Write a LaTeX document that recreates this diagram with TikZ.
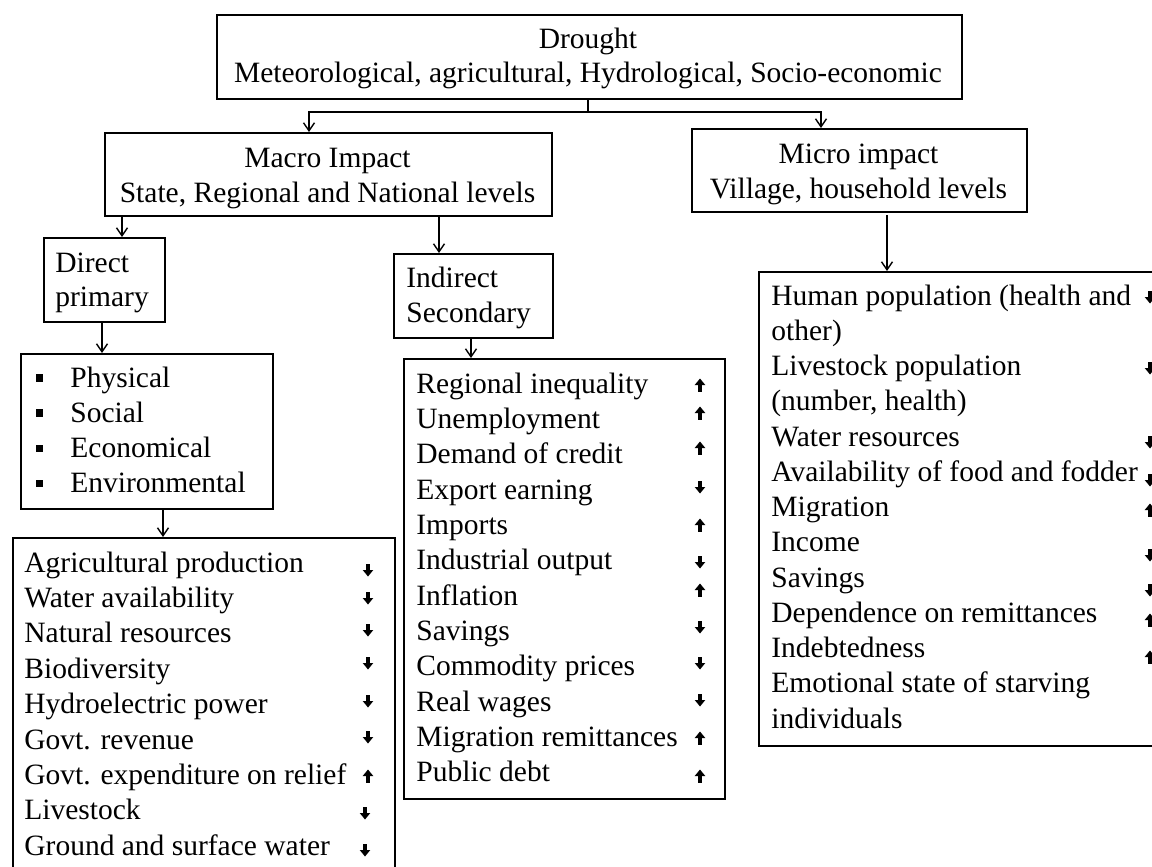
\documentclass[tikz,border=0pt]{standalone}
\usepackage{fontspec}
\setmainfont{Liberation Serif}
\usetikzlibrary{arrows.meta}
\newcommand\myfs{\fontsize{14.75}{17.6}\selectfont}
\begin{document}
\begin{tikzpicture}[x=0.5pt,y=-0.5pt,
  box/.style={draw, line width=0.8pt, inner sep=0pt, anchor=north west},
  txt/.style={inner sep=0pt, anchor=base west, font=\myfs},
  ctxt/.style={inner sep=0pt, anchor=base, font=\myfs},
  arr/.style={line width=0.7pt, -{Straight Barb[length=4pt,width=5.5pt,line width=0.7pt]}},
  plain/.style={line width=0.7pt},
  pics/darr/.style={code={\fill (-2,-6.5) rectangle (2,0.5); \fill (-5.3,0) -- (5.3,0) -- (0,6.5) -- cycle;}},
  pics/uarr/.style={code={\fill (-2,6.5) rectangle (2,-0.5); \fill (-5.3,0) -- (5.3,0) -- (0,-6.5) -- cycle;}},
]
\useasboundingbox (0,0) rectangle (1152,867);
\clip (0,0) rectangle (1152,867);

% boxes
\node[box, minimum width=372.5pt, minimum height=42pt] (drought) at (216,14) {};
\node[box, minimum width=223.5pt, minimum height=41.5pt] (macro) at (104,132) {};
\node[box, minimum width=167.5pt, minimum height=41.5pt] (micro) at (691,128) {};
\node[box, minimum width=60.5pt, minimum height=42pt] (direct) at (43,237) {};
\node[box, minimum width=79.5pt, minimum height=42pt] (indirect) at (393,253) {};
\node[box, minimum width=126pt, minimum height=77.5pt] (bullets) at (20,353) {};
\node[box, minimum width=191pt, minimum height=170pt] (agri) at (12,537) {};
\node[box, minimum width=160.5pt, minimum height=220pt] (indlist) at (403,358) {};
\node[box, minimum width=210pt, minimum height=237pt] (rlist) at (758,271) {};

% box titles
\node[ctxt] (t1) at (588,48) {Drought};
\node[ctxt] (t2) at (588,83) {Meteorological, agricultural, Hydrological, Socio-economic};
\node[ctxt] (t3) at (327.5,167) {Macro Impact};
\node[ctxt] (t4) at (327.5,202) {State, Regional and National levels};
\node[ctxt] (t5) at (858.5,163) {Micro impact};
\node[ctxt] (t6) at (858.5,198) {Village, household levels};
\node[txt] (t7) at (55,272) {Direct};
\node[txt] (t8) at (55,306) {primary};
\node[txt] (t9) at (406,287) {Indirect};
\node[txt] (t10) at (406,322) {Secondary};

% bullet list
\foreach \t [count=\i from 0] in {Physical,Social,Economical,Environmental}{
  \node[txt] (b\i) at (70,{387+35.3*\i}) {\t};
  \fill (35.5,{387+35.3*\i-13}) rectangle ++(7.5,7.5);
}

% agri list
\foreach \t [count=\i from 0] in {Agricultural production,Water availability,Natural resources,Biodiversity,Hydroelectric power,Govt. revenue,Govt. expenditure on relief,Livestock,Ground and surface water}{
  \node[txt] (a\i) at (24,{572+35.4*\i}) {\t};
}
% indirect list
\foreach \t [count=\i from 0] in {Regional inequality,Unemployment,Demand of credit,Export earning,Imports,Industrial output,Inflation,Savings,Commodity prices,Real wages,Migration remittances,Public debt}{
  \node[txt] (n\i) at (416,{393+35.35*\i}) {\t};
}
% right list
\foreach \t [count=\i from 0] in {Human population (health and,other),Livestock population,{(number, health)},Water resources,Availability of food and fodder,Migration,Income,Savings,Dependence on remittances,Indebtedness,Emotional state of starving,individuals}{
  \node[txt] (r\i) at (771,{305+35.25*\i}) {\t};
}

% trend icons
\foreach \y/\d in {570/darr,598/darr,630/darr,663/darr,701/darr,737/darr,776/uarr}{\pic at (368,\y) {\d};}
\foreach \y/\d in {813/darr,850/darr}{\pic at (365,\y) {\d};}
\foreach \y/\d in {385/uarr,413/uarr,448/uarr,487/darr,525/uarr,562/darr,590/uarr,627/darr,663/darr,700/darr,738/uarr,776/uarr}{\pic at (700,\y) {\d};}
\foreach \y/\d in {297/darr,368/darr,442/darr,480/darr,510/uarr,555/darr,590/darr,620/uarr,657/uarr}{\pic at (1150,\y) {\d};}

% connectors
\coordinate (J) at (588,112);
\coordinate (xL) at (309,0);
\coordinate (xR) at (821,0);
\draw[plain] (drought.south -| J) -- (J);
\draw[arr] (J) -| (macro.north -| xL);
\draw[arr] (J) -| (micro.north -| xR);
\coordinate (xD) at (122,0);
\coordinate (xI) at (439,0);
\draw[arr] (macro.south -| xD) -- (direct.north -| xD);
\draw[arr] (macro.south -| xI) -- (indirect.north -| xI);
\coordinate (xB) at (102,0);
\draw[arr] (direct.south -| xB) -- (bullets.north -| xB);
\coordinate (xA) at (163,0);
\draw[arr] (bullets.south -| xA) -- (agri.north -| xA);
\coordinate (xN) at (471,0);
\draw[arr] (indirect.south -| xN) -- (indlist.north -| xN);
\coordinate (xM) at (887,215);
\draw[arr] (xM) -- (rlist.north -| xM);
\end{tikzpicture}
\end{document}
